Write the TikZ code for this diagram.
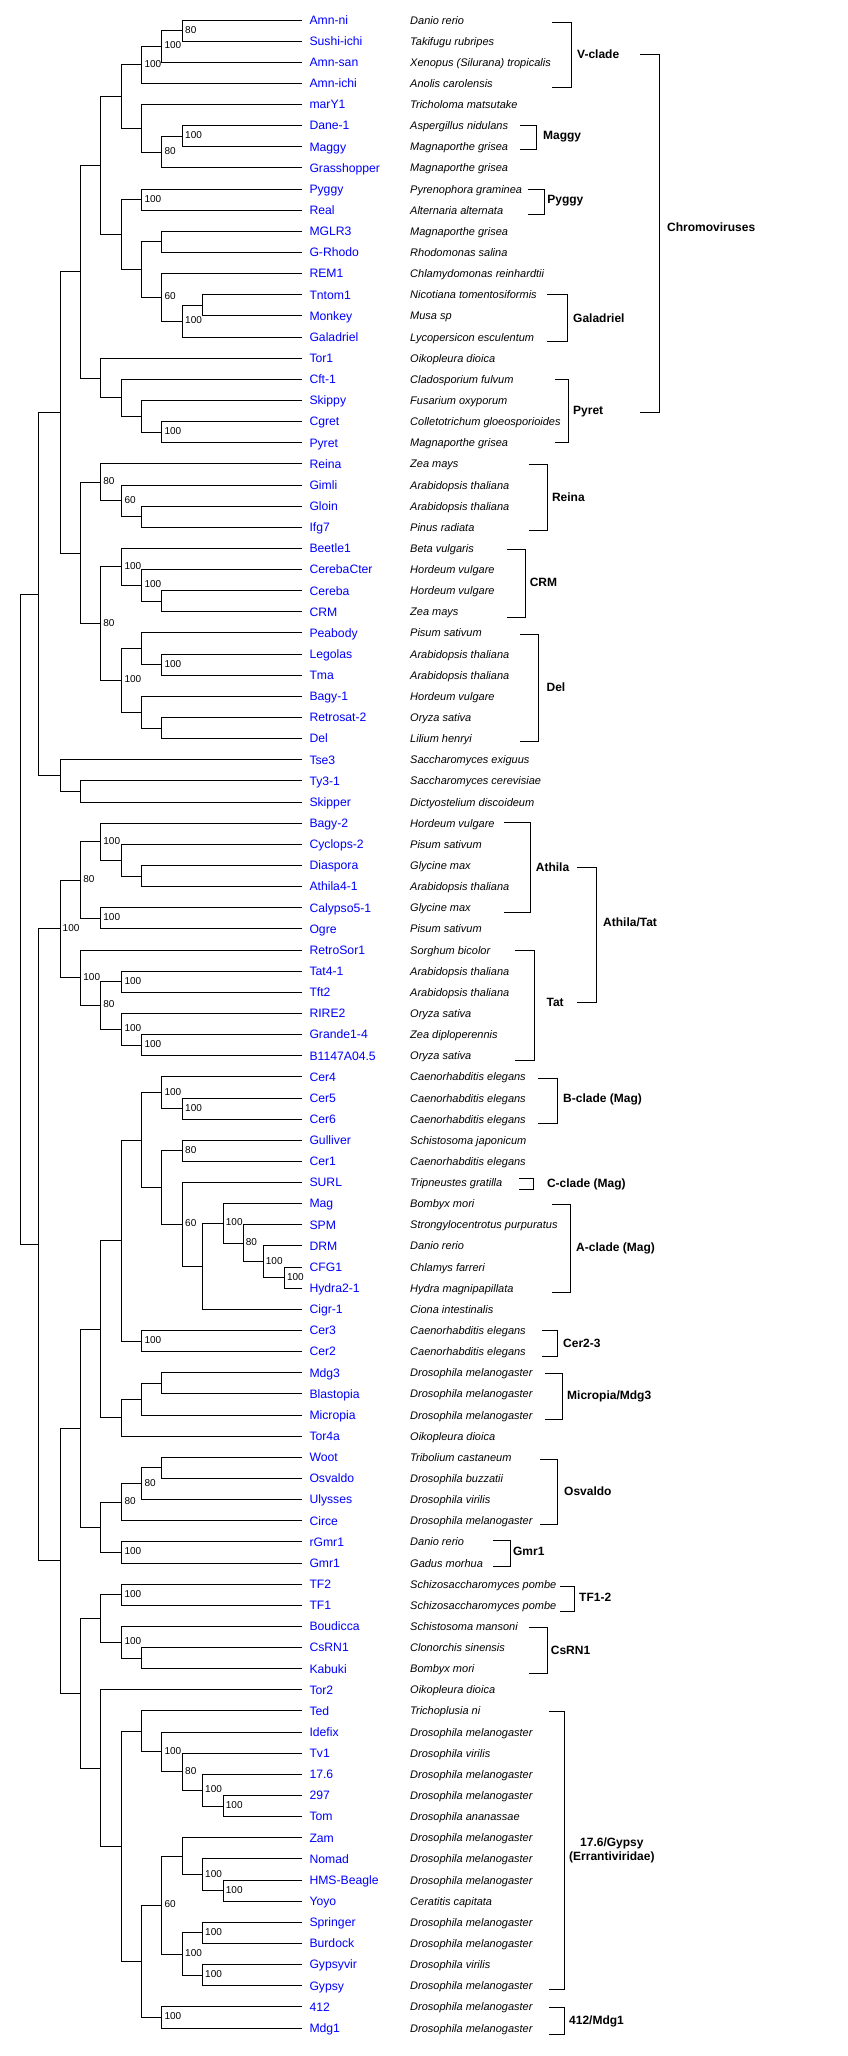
\documentclass[tikz,border=0pt]{standalone}
\usepackage{fontspec}
\setmainfont{Liberation Sans}
\usetikzlibrary{calc}
\definecolor{leafblue}{RGB}{0,0,255}
\tikzset{
  lname/.style={anchor=base west, inner sep=0, text=leafblue, font=\fontsize{12.2}{14}\selectfont},
  sname/.style={anchor=base west, inner sep=0, font=\fontsize{11}{13}\selectfont\itshape},
  boot/.style={anchor=west, inner sep=0, xshift=2.5pt, yshift=1pt, font=\fontsize{10}{12}\selectfont},
  edge/.style={line width=1pt},
  cname/.style={anchor=west, inner sep=0, font=\fontsize{12}{14}\selectfont\bfseries},
}
\newcommand{\leaf}[3]{%
  \pgfmathsetmacro{\lfy}{20+#1*21.137}%
  \coordinate (l#1) at (301.8,\lfy);%
  \node[lname] (n#1) at (309.3,{\lfy+4.3}) {#2};%
  \node[sname] (s#1) at (410,{\lfy+4}) {#3};%
}
\newcommand{\inode}[4]{%
  \path let \p1=(#3), \p2=(#4) in coordinate (#1) at (#2pt,{(\y1+\y2)/2});%
  \draw[edge] (#1) |- (#3);%
  \draw[edge] (#1) |- (#4);%
}
\newcommand{\bnode}[5]{%
  \inode{#1}{#2}{#3}{#4}%
  \node[boot] (#1lab) at (#1) {#5};%
}
\newcommand{\clade}[8]{%
  \coordinate (#1t) at (#2,#4);\coordinate (#1u) at (#3,#4);%
  \coordinate (#1v) at (#3,#5);\coordinate (#1b) at (#2,#5);%
  \draw[edge] (#1t) -- (#1u) -- (#1v) -- (#1b);%
  \node[cname,align=center] (#1l) at (#6,#7) {#8};%
}
\begin{document}
\begin{tikzpicture}[x=1pt,y=-1pt]
\fill[white] (0,0) rectangle (847,2056);
\useasboundingbox (0,0) rectangle (847,2056);
% leaves
\leaf{0}{Amn-ni}{Danio rerio}
\leaf{1}{Sushi-ichi}{Takifugu rubripes}
\leaf{2}{Amn-san}{Xenopus (Silurana) tropicalis}
\leaf{3}{Amn-ichi}{Anolis carolensis}
\leaf{4}{marY1}{Tricholoma matsutake}
\leaf{5}{Dane-1}{Aspergillus nidulans}
\leaf{6}{Maggy}{Magnaporthe grisea}
\leaf{7}{Grasshopper}{Magnaporthe grisea}
\leaf{8}{Pyggy}{Pyrenophora graminea}
\leaf{9}{Real}{Alternaria alternata}
\leaf{10}{MGLR3}{Magnaporthe grisea}
\leaf{11}{G-Rhodo}{Rhodomonas salina}
\leaf{12}{REM1}{Chlamydomonas reinhardtii}
\leaf{13}{Tntom1}{Nicotiana tomentosiformis}
\leaf{14}{Monkey}{Musa sp}
\leaf{15}{Galadriel}{Lycopersicon esculentum}
\leaf{16}{Tor1}{Oikopleura dioica}
\leaf{17}{Cft-1}{Cladosporium fulvum}
\leaf{18}{Skippy}{Fusarium oxyporum}
\leaf{19}{Cgret}{Colletotrichum gloeosporioides}
\leaf{20}{Pyret}{Magnaporthe grisea}
\leaf{21}{Reina}{Zea mays}
\leaf{22}{Gimli}{Arabidopsis thaliana}
\leaf{23}{Gloin}{Arabidopsis thaliana}
\leaf{24}{Ifg7}{Pinus radiata}
\leaf{25}{Beetle1}{Beta vulgaris}
\leaf{26}{CerebaCter}{Hordeum vulgare}
\leaf{27}{Cereba}{Hordeum vulgare}
\leaf{28}{CRM}{Zea mays}
\leaf{29}{Peabody}{Pisum sativum}
\leaf{30}{Legolas}{Arabidopsis thaliana}
\leaf{31}{Tma}{Arabidopsis thaliana}
\leaf{32}{Bagy-1}{Hordeum vulgare}
\leaf{33}{Retrosat-2}{Oryza sativa}
\leaf{34}{Del}{Lilium henryi}
\leaf{35}{Tse3}{Saccharomyces exiguus}
\leaf{36}{Ty3-1}{Saccharomyces cerevisiae}
\leaf{37}{Skipper}{Dictyostelium discoideum}
\leaf{38}{Bagy-2}{Hordeum vulgare}
\leaf{39}{Cyclops-2}{Pisum sativum}
\leaf{40}{Diaspora}{Glycine max}
\leaf{41}{Athila4-1}{Arabidopsis thaliana}
\leaf{42}{Calypso5-1}{Glycine max}
\leaf{43}{Ogre}{Pisum sativum}
\leaf{44}{RetroSor1}{Sorghum bicolor}
\leaf{45}{Tat4-1}{Arabidopsis thaliana}
\leaf{46}{Tft2}{Arabidopsis thaliana}
\leaf{47}{RIRE2}{Oryza sativa}
\leaf{48}{Grande1-4}{Zea diploperennis}
\leaf{49}{B1147A04.5}{Oryza sativa}
\leaf{50}{Cer4}{Caenorhabditis elegans}
\leaf{51}{Cer5}{Caenorhabditis elegans}
\leaf{52}{Cer6}{Caenorhabditis elegans}
\leaf{53}{Gulliver}{Schistosoma japonicum}
\leaf{54}{Cer1}{Caenorhabditis elegans}
\leaf{55}{SURL}{Tripneustes gratilla}
\leaf{56}{Mag}{Bombyx mori}
\leaf{57}{SPM}{Strongylocentrotus purpuratus}
\leaf{58}{DRM}{Danio rerio}
\leaf{59}{CFG1}{Chlamys farreri}
\leaf{60}{Hydra2-1}{Hydra magnipapillata}
\leaf{61}{Cigr-1}{Ciona intestinalis}
\leaf{62}{Cer3}{Caenorhabditis elegans}
\leaf{63}{Cer2}{Caenorhabditis elegans}
\leaf{64}{Mdg3}{Drosophila melanogaster}
\leaf{65}{Blastopia}{Drosophila melanogaster}
\leaf{66}{Micropia}{Drosophila melanogaster}
\leaf{67}{Tor4a}{Oikopleura dioica}
\leaf{68}{Woot}{Tribolium castaneum}
\leaf{69}{Osvaldo}{Drosophila buzzatii}
\leaf{70}{Ulysses}{Drosophila virilis}
\leaf{71}{Circe}{Drosophila melanogaster}
\leaf{72}{rGmr1}{Danio rerio}
\leaf{73}{Gmr1}{Gadus morhua}
\leaf{74}{TF2}{Schizosaccharomyces pombe}
\leaf{75}{TF1}{Schizosaccharomyces pombe}
\leaf{76}{Boudicca}{Schistosoma mansoni}
\leaf{77}{CsRN1}{Clonorchis sinensis}
\leaf{78}{Kabuki}{Bombyx mori}
\leaf{79}{Tor2}{Oikopleura dioica}
\leaf{80}{Ted}{Trichoplusia ni}
\leaf{81}{Idefix}{Drosophila melanogaster}
\leaf{82}{Tv1}{Drosophila virilis}
\leaf{83}{17.6}{Drosophila melanogaster}
\leaf{84}{297}{Drosophila melanogaster}
\leaf{85}{Tom}{Drosophila ananassae}
\leaf{86}{Zam}{Drosophila melanogaster}
\leaf{87}{Nomad}{Drosophila melanogaster}
\leaf{88}{HMS-Beagle}{Drosophila melanogaster}
\leaf{89}{Yoyo}{Ceratitis capitata}
\leaf{90}{Springer}{Drosophila melanogaster}
\leaf{91}{Burdock}{Drosophila melanogaster}
\leaf{92}{Gypsyvir}{Drosophila virilis}
\leaf{93}{Gypsy}{Drosophila melanogaster}
\leaf{94}{412}{Drosophila melanogaster}
\leaf{95}{Mdg1}{Drosophila melanogaster}
% internal nodes
\bnode{a1}{182.5}{l0}{l1}{80}
\bnode{a2}{161.8}{a1}{l2}{100}
\bnode{a3}{141.8}{a2}{l3}{100}
\bnode{b1}{182.5}{l5}{l6}{100}
\bnode{b2}{161.8}{b1}{l7}{80}
\inode{b3}{141.8}{l4}{b2}
\inode{c}{121.8}{a3}{b3}
\bnode{p1}{141.8}{l8}{l9}{100}
\inode{g1}{161.8}{l10}{l11}
\inode{g2}{202.5}{l13}{l14}
\bnode{g3}{182.5}{g2}{l15}{100}
\bnode{g4}{161.8}{l12}{g3}{60}
\inode{g5}{141.8}{g1}{g4}
\inode{e}{121.8}{p1}{g5}
\inode{d}{100.7}{c}{e}
\bnode{k1}{161.8}{l19}{l20}{100}
\inode{k2}{141.8}{l18}{k1}
\inode{k3}{121.8}{l17}{k2}
\inode{h}{100.7}{l16}{k3}
\inode{f}{80.7}{d}{h}
\inode{r1}{141.8}{l23}{l24}
\bnode{r2}{121.8}{l22}{r1}{60}
\bnode{r3}{100.7}{l21}{r2}{80}
\inode{c1}{161.8}{l27}{l28}
\bnode{c2}{141.8}{l26}{c1}{100}
\bnode{c3}{121.8}{l25}{c2}{100}
\bnode{d1}{161.8}{l30}{l31}{100}
\inode{d2}{141.8}{l29}{d1}
\inode{d3}{161.8}{l33}{l34}
\inode{d4}{141.8}{l32}{d3}
\bnode{d5}{121.8}{d2}{d4}{100}
\bnode{s}{100.7}{c3}{d5}{80}
\inode{n}{80.7}{r3}{s}
\inode{m}{60}{f}{n}
\inode{t1}{80.7}{l36}{l37}
\inode{t}{60}{l35}{t1}
\inode{u}{38.9}{m}{t}
\inode{at1}{141.8}{l40}{l41}
\inode{at2}{121.8}{l39}{at1}
\bnode{at3}{100.7}{l38}{at2}{100}
\bnode{at4}{100.7}{l42}{l43}{100}
\bnode{at5}{80.7}{at3}{at4}{80}
\bnode{ta1}{121.8}{l45}{l46}{100}
\bnode{ta2}{141.8}{l48}{l49}{100}
\bnode{ta3}{121.8}{l47}{ta2}{100}
\bnode{ta4}{100.7}{ta1}{ta3}{80}
\bnode{ta5}{80.7}{l44}{ta4}{100}
\bnode{atat}{60}{at5}{ta5}{100}
\bnode{bc1}{182.5}{l51}{l52}{100}
\bnode{bc2}{161.8}{l50}{bc1}{100}
\bnode{gc}{182.5}{l53}{l54}{80}
\bnode{ac5}{284.3}{l59}{l60}{100}
\bnode{ac4}{263.2}{l58}{ac5}{100}
\bnode{ac3}{243.2}{l57}{ac4}{80}
\bnode{ac2}{223.2}{l56}{ac3}{100}
\inode{ac1}{202.5}{ac2}{l61}
\bnode{sc}{182.5}{l55}{ac1}{60}
\inode{bc3}{161.8}{gc}{sc}
\inode{bc4}{141.8}{bc2}{bc3}
\bnode{cc}{141.8}{l62}{l63}{100}
\inode{mg1}{121.8}{bc4}{cc}
\inode{mi1}{161.8}{l64}{l65}
\inode{mi2}{141.8}{mi1}{l66}
\inode{mi3}{121.8}{mi2}{l67}
\inode{y1}{100.7}{mg1}{mi3}
\inode{os1}{161.8}{l68}{l69}
\bnode{os2}{141.8}{os1}{l70}{80}
\bnode{os3}{121.8}{os2}{l71}{80}
\bnode{gm}{121.8}{l72}{l73}{100}
\inode{y2}{100.7}{os3}{gm}
\inode{yy}{80.7}{y1}{y2}
\bnode{tf}{121.8}{l74}{l75}{100}
\inode{cs1}{141.8}{l77}{l78}
\bnode{cs2}{121.8}{l76}{cs1}{100}
\inode{z1}{100.7}{tf}{cs2}
\bnode{gy1}{223.2}{l84}{l85}{100}
\bnode{gy2}{202.5}{l83}{gy1}{100}
\bnode{gy3}{182.5}{l82}{gy2}{80}
\bnode{gy4}{161.8}{l81}{gy3}{100}
\inode{gy5}{141.8}{l80}{gy4}
\bnode{hm1}{223.2}{l88}{l89}{100}
\bnode{hm2}{202.5}{l87}{hm1}{100}
\inode{hm3}{182.5}{l86}{hm2}
\bnode{sp1}{202.5}{l90}{l91}{100}
\bnode{sp2}{202.5}{l92}{l93}{100}
\bnode{sp3}{182.5}{sp1}{sp2}{100}
\bnode{gy6}{161.8}{hm3}{sp3}{60}
\bnode{md}{161.8}{l94}{l95}{100}
\inode{gy7}{141.8}{gy6}{md}
\inode{gy8}{121.8}{gy5}{gy7}
\inode{z2}{100.7}{l79}{gy8}
\inode{z}{80.7}{z1}{z2}
\inode{x}{60}{yy}{z}
\inode{w}{38.9}{atat}{x}
\inode{root}{20.4}{u}{w}
% clade brackets
\clade{cv}{551.8}{571.6}{22.7}{87.3}{577}{54}{V-clade}
\clade{chr}{640}{659.5}{54}{412}{667}{227}{Chromoviruses}
\clade{cmg}{520.4}{536.8}{125}{149}{542.9}{137}{Maggy}
\clade{cpy}{527.9}{544.6}{189}{214}{547.2}{201}{Pyggy}
\clade{cga}{547.2}{567.7}{294.3}{341.7}{573}{318}{Galadriel}
\clade{cpr}{555}{568}{379.3}{442.3}{573}{412}{Pyret}
\clade{cre}{528.5}{547.2}{464.3}{530}{551.8}{497}{Reina}
\clade{ccr}{507.1}{525.7}{549.3}{617.3}{529.6}{582}{CRM}
\clade{cde}{520}{538.2}{634.3}{741}{546.4}{687}{Del}
\clade{cat}{503.9}{530.4}{822.7}{912}{535.7}{867}{Athila}
\clade{catt}{577}{596.5}{867}{1002}{603}{922}{Athila/Tat}
\clade{cta}{514.6}{534.6}{950}{1060}{546.4}{1002}{Tat}
\clade{cbc}{537.5}{557.1}{1078.3}{1123.3}{563}{1099}{B-clade (Mag)}
\clade{ccc}{518.9}{533.3}{1178.7}{1189.3}{546.8}{1184}{C-clade (Mag)}
\clade{cac}{551.8}{570}{1204.3}{1292.3}{576}{1248}{A-clade (Mag)}
\clade{cc23}{541.8}{557.1}{1330.3}{1356.7}{563}{1343}{Cer2-3}
\clade{cmi}{545.4}{562}{1373.3}{1419.3}{567}{1396}{Micropia/Mdg3}
\clade{cos}{540.3}{557.9}{1459.3}{1524.3}{564}{1491}{Osvaldo}
\clade{cgm}{493.2}{510.7}{1540}{1566.7}{512.9}{1551}{Gmr1}
\clade{ctf}{560}{574}{1586}{1611}{579}{1597}{TF1-2}
\clade{ccs}{528.5}{547.2}{1627.7}{1673.3}{550.7}{1650}{CsRN1}
\clade{cgy}{549}{564}{1711.7}{1989}{569}{1850}{17.6/Gypsy\\(Errantiviridae)}
\clade{cmd}{549}{564}{2007.3}{2034}{569}{2021}{412/Mdg1}
\end{tikzpicture}
\end{document}
